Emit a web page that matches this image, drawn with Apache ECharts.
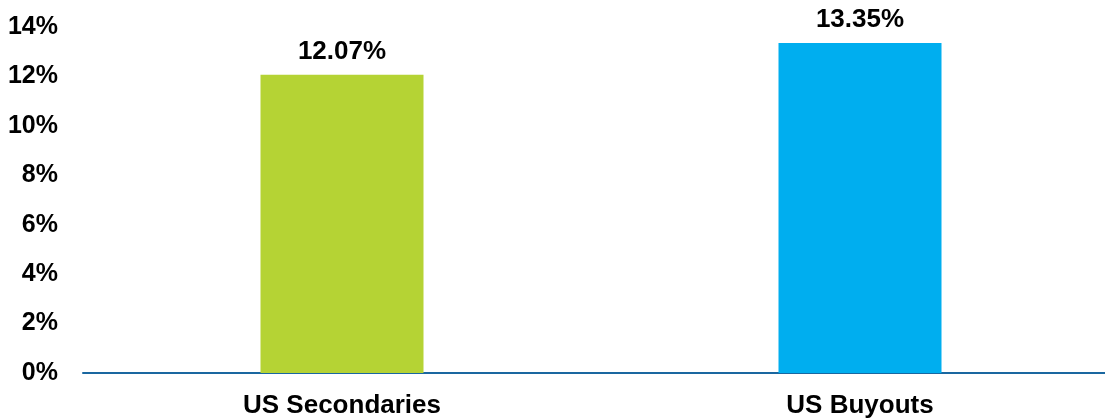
<!DOCTYPE html>
<html>
<head>
<meta charset="utf-8">
<script src="https://cdn.jsdelivr.net/npm/echarts@6/dist/echarts.min.js"></script>
<style>
  html, body { margin: 0; padding: 0; background: #ffffff; }
  #chart { width: 1105px; height: 419px; }
</style>
</head>
<body>
<div id="chart"></div>
<script>
var categories = ['US Secondaries', 'US Buyouts'];
var values = [12.07, 13.35];
var barColors = ['#b5d334', '#00aeef'];
var yTicks = [0, 2, 4, 6, 8, 10, 12, 14];

var chart = echarts.init(document.getElementById('chart'), null, { renderer: 'canvas' });

var font = '"Liberation Sans", Arial, sans-serif';

chart.setOption({
  backgroundColor: '#ffffff',
  animation: false,
  grid: {
    left: 83,
    width: 1036,
    top: 27,
    bottom: 46,
    outerBoundsMode: 'none'
  },
  xAxis: {
    type: 'category',
    data: categories,
    axisLine: { lineStyle: { color: '#1a67a0', width: 2 } },
    axisTick: { show: false },
    axisLabel: {
      color: '#000',
      fontFamily: font,
      fontWeight: 'bold',
      fontSize: 26,
      margin: 20
    }
  },
  yAxis: {
    type: 'value',
    min: yTicks[0],
    max: yTicks[yTicks.length - 1],
    interval: 2,
    axisLine: { show: false },
    axisTick: { show: false },
    splitLine: { show: false },
    axisLabel: {
      color: '#000',
      fontFamily: font,
      fontWeight: 'bold',
      fontSize: 25,
      margin: 25,
      formatter: '{value}%'
    }
  },
  series: [{
    type: 'bar',
    barWidth: 163,
    data: values.map(function (v, i) {
      return { value: v, itemStyle: { color: barColors[i] } };
    }),
    label: {
      show: true,
      position: 'top',
      distance: 10,
      color: '#000',
      fontFamily: font,
      fontWeight: 'bold',
      fontSize: 26,
      formatter: function (p) { return p.value.toFixed(2) + '%'; }
    }
  }]
});
</script>
</body>
</html>
